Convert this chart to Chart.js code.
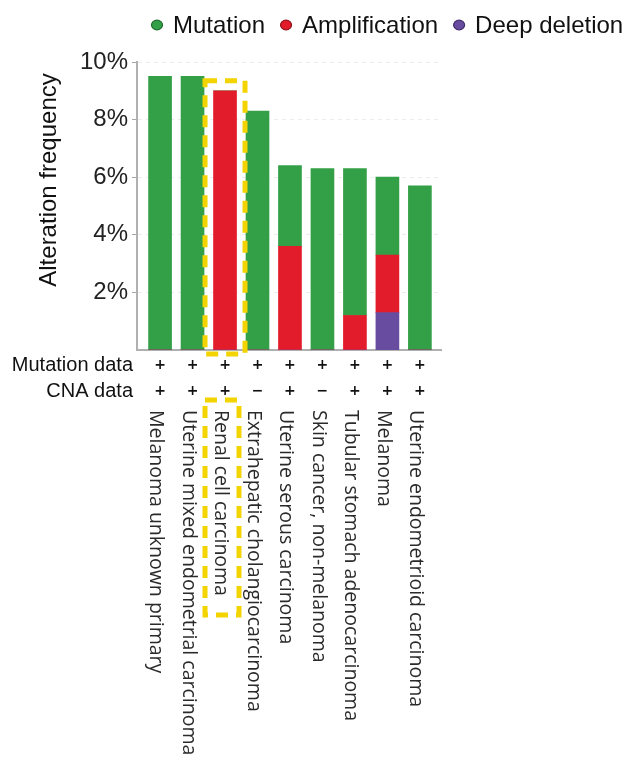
<!DOCTYPE html>
<html>
<head>
<meta charset="utf-8">
<script src="https://cdn.jsdelivr.net/npm/chart.js@4/dist/chart.umd.min.js"></script>
<style>
  html, body { margin: 0; padding: 0; background: #fff; }
  #wrap { width: 624px; height: 762px; }
</style>
</head>
<body>
<div id="wrap"><canvas id="chart" width="624" height="762"></canvas></div>
<script>
// Cancer types, in plotted order
const cancerTypes = [
  'Melanoma unknown primary',
  'Uterine mixed endometrial carcinoma',
  'Renal cell carcinoma',
  'Extrahepatic cholangiocarcinoma',
  'Uterine serous carcinoma',
  'Skin cancer, non-melanoma',
  'Tubular stomach adenocarcinoma',
  'Melanoma',
  'Uterine endometrioid carcinoma'
];

// Alteration frequency (%) per alteration class
const mutation      = [9.5, 9.5, 0,   8.3, 2.8, 6.3, 5.1, 2.7, 5.7];
const amplification = [0,   0,   9.0, 0,   3.6, 0,   1.2, 2.0, 0  ];
const deepDeletion  = [0,   0,   0,   0,   0,   0,   0,   1.3, 0  ];

// Whether each study profiled mutations / copy number
const mutationProfiled = ['+', '+', '+', '+', '+', '+', '+', '+', '+'];
const cnaProfiled      = ['+', '+', '+', '\u2212', '+', '\u2212', '+', '+', '+'];

const yTicks = [2, 4, 6, 8, 10];
const highlighted = 2; // Renal cell carcinoma

const COLORS = {
  mutation: '#33a047',
  amplification: '#e21c2a',
  deletion: '#684ca0',
  highlight: '#f3d400'
};

const toPoints = arr => arr.map((v, i) => ({ x: i, y: v }));

const legendItems = [
  { label: 'Mutation', color: COLORS.mutation, edge: '#1f6b2d' },
  { label: 'Amplification', color: COLORS.amplification, edge: '#8f1119' },
  { label: 'Deep deletion', color: COLORS.deletion, edge: '#3f2c68' }
];

const overlay = {
  id: 'overlay',
  afterDraw(chart) {
    const { ctx, scales: { x, y } } = chart;
    const sans = '"Liberation Sans", Arial, sans-serif';
    ctx.save();

    // legend
    ctx.font = '24px ' + sans;
    ctx.textBaseline = 'middle';
    ctx.textAlign = 'left';
    let lx = 157;
    const ly = 25;
    legendItems.forEach(item => {
      ctx.beginPath();
      ctx.ellipse(lx, ly, 5.5, 4.8, 0, 0, Math.PI * 2);
      ctx.fillStyle = item.color;
      ctx.fill();
      ctx.lineWidth = 1.2;
      ctx.strokeStyle = item.edge;
      ctx.stroke();
      ctx.fillStyle = '#111';
      ctx.fillText(item.label, lx + 16, ly + 1);
      lx += 16 + ctx.measureText(item.label).width + 21;
    });

    // y-axis title
    ctx.save();
    ctx.translate(49, 180);
    ctx.rotate(-Math.PI / 2);
    ctx.textAlign = 'center';
    ctx.fillStyle = '#111';
    ctx.fillText('Alteration frequency', 0, 0);
    ctx.restore();

    // profiled-data rows
    ctx.font = '20px ' + sans;
    ctx.textAlign = 'right';
    ctx.fillStyle = '#111';
    ctx.fillText('Mutation data', 133, 365);
    ctx.fillText('CNA data', 133, 391);
    ctx.font = 'bold 14px "DejaVu Sans", sans-serif';
    ctx.textAlign = 'center';
    cancerTypes.forEach((_, i) => {
      const cx = x.getPixelForValue(i);
      ctx.fillText(mutationProfiled[i], cx, 365);
      ctx.fillText(cnaProfiled[i], cx, 391);
    });

    // category labels, rotated to read downwards
    ctx.font = '19.5px "Open Sans", "Noto Sans", sans-serif';
    ctx.textAlign = 'left';
    ctx.fillStyle = '#2a2a2a';
    const labelTop = 410;
    let highlightEnd = labelTop;
    cancerTypes.forEach((name, i) => {
      const cx = x.getPixelForValue(i) - 4;
      ctx.save();
      ctx.translate(cx, labelTop);
      ctx.rotate(Math.PI / 2);
      ctx.fillText(name, 0, 0);
      ctx.restore();
      if (i === highlighted) highlightEnd = labelTop + ctx.measureText(name).width;
    });

    // dashed highlight boxes around the renal cell carcinoma bar and label
    const hc = x.getPixelForValue(highlighted);
    const barTop = y.getPixelForValue(amplification[highlighted] + mutation[highlighted] + deepDeletion[highlighted]);
    ctx.strokeStyle = COLORS.highlight;
    ctx.lineWidth = 5;
    ctx.setLineDash([12, 8]);
    ctx.strokeRect(hc - 20, barTop - 10, 40, y.getPixelForValue(0) - barTop + 14);
    ctx.strokeRect(hc - 20, labelTop - 10, 34, highlightEnd - labelTop + 29);
    ctx.restore();
  }
};

new Chart(document.getElementById('chart'), {
  type: 'bar',
  data: {
    datasets: [
      { label: 'Deep deletion', data: toPoints(deepDeletion), backgroundColor: COLORS.deletion },
      { label: 'Amplification', data: toPoints(amplification), backgroundColor: COLORS.amplification },
      { label: 'Mutation', data: toPoints(mutation), backgroundColor: COLORS.mutation }
    ]
  },
  options: {
    responsive: false,
    animation: false,
    devicePixelRatio: 1,
    layout: { padding: { top: 62, right: 183, left: 0, bottom: 0 } },
    datasets: { bar: { barThickness: 23, borderWidth: 0 } },
    plugins: { legend: { display: false }, tooltip: { enabled: false } },
    scales: {
      x: {
        type: 'linear',
        stacked: true,
        offset: false,
        min: -0.71,
        max: 8.65,
        grid: { display: false, offset: false },
        ticks: { display: false },
        border: { display: true, color: '#b0b0b0', width: 2 },
        afterFit(scale) { scale.height = 412; }
      },
      y: {
        stacked: true,
        min: 0,
        max: 10,
        afterBuildTicks(scale) { scale.ticks = yTicks.map(v => ({ value: v })); },
        afterFit(scale) { scale.width = 137; },
        ticks: {
          padding: 4,
          color: '#222',
          font: { family: '"Liberation Sans", Arial, sans-serif', size: 24 },
          callback: v => v + '%'
        },
        grid: {
          color: 'rgba(0,0,0,0.07)',
          tickColor: '#a8a8a8',
          tickLength: 5,
          lineWidth: 1
        },
        border: { display: true, color: '#b0b0b0', width: 2, dash: [4, 4] }
      }
    }
  },
  plugins: [overlay]
});
</script>
</body>
</html>
